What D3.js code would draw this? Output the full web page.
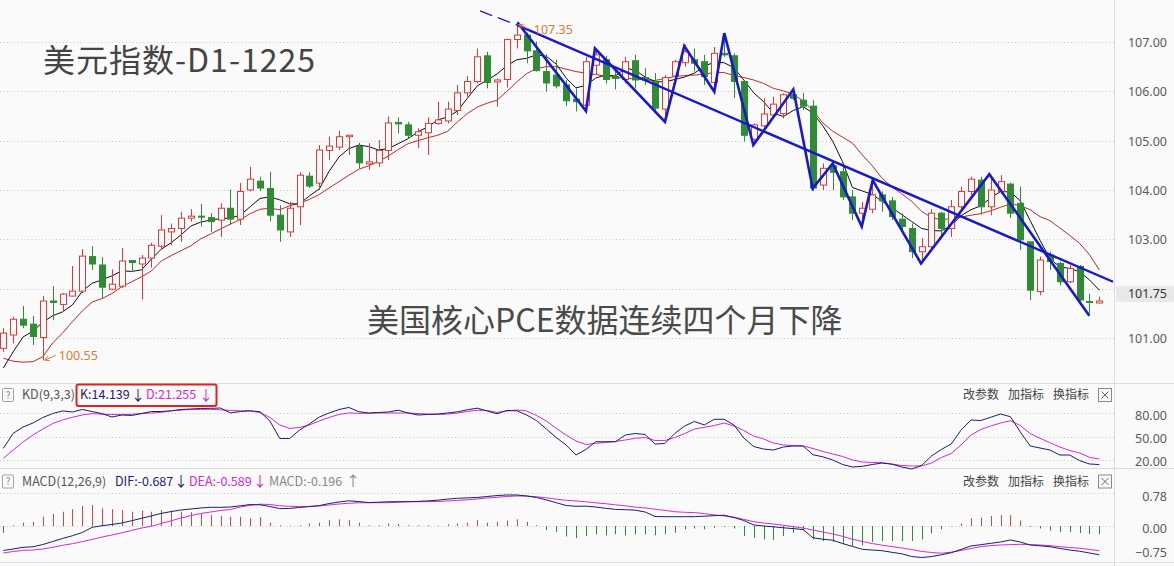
<!DOCTYPE html>
<html><head><meta charset="utf-8">
<script src="https://cdn.jsdelivr.net/npm/d3@7/dist/d3.min.js"></script>
<style>html,body{margin:0;padding:0;background:#fafafa;overflow:hidden}text{font-family:"Noto Sans CJK SC","Noto Sans",sans-serif}</style>
</head><body><svg id="c" width="1174" height="566"></svg>
<script>
const openP=[100.79,101.06,101.38,101.28,101.01,101.75,101.68,101.85,101.95,102.65,
102.48,101.99,102.05,102.57,102.50,102.62,102.86,103.15,103.22,103.43,
103.47,103.44,103.39,103.63,103.41,104.00,104.18,104.03,103.49,103.15,
103.66,104.28,104.14,104.80,104.87,105.08,104.88,104.53,104.55,104.80,
105.37,105.32,105.11,105.16,105.35,105.40,105.61,105.97,106.20,106.72,
106.19,106.24,107.05,107.14,106.82,106.40,106.33,106.13,105.84,105.72,
106.53,106.64,106.30,106.24,106.62,106.28,106.20,105.64,106.31,106.58,
106.64,106.60,106.18,106.77,106.72,106.20,105.03,105.30,105.52,105.55,
105.93,105.82,105.70,104.10,104.49,104.37,103.86,103.53,103.61,103.90,
103.78,103.41,103.22,102.75,102.85,103.53,103.22,103.66,103.97,104.20,
103.66,103.97,104.12,103.73,102.95,101.94,102.68,102.51,102.14,102.45,
101.74,101.71];
const closeP=[101.10,101.38,101.26,101.03,101.75,101.72,101.89,101.95,102.66,102.50,
102.03,102.09,102.56,102.53,102.62,102.88,103.19,103.22,103.43,103.47,
103.45,103.36,103.63,103.41,103.97,104.22,104.04,103.49,103.19,103.63,
104.30,104.08,104.81,104.89,105.08,105.11,104.55,104.57,104.80,105.36,
105.34,105.11,105.18,105.35,105.42,105.64,105.97,106.20,106.70,106.18,
106.23,107.05,107.14,106.82,106.42,106.17,106.11,105.81,105.79,106.60,
106.74,106.24,106.26,106.60,106.23,106.23,105.66,106.28,106.60,106.80,
106.57,106.30,106.77,106.74,106.20,105.11,105.32,105.54,105.74,105.93,
105.86,105.70,104.04,104.44,104.36,103.86,103.53,103.63,103.90,103.78,
103.46,103.26,102.75,102.85,103.53,103.22,103.66,103.97,104.22,103.66,
104.00,104.17,103.53,102.99,101.97,102.58,102.55,102.14,102.41,101.77,
101.72,101.75];
const highP=[101.20,101.43,101.65,101.45,101.85,102.05,101.91,102.46,102.80,102.86,
102.64,102.39,102.82,102.58,102.68,102.93,103.49,103.32,103.56,103.61,
103.72,103.53,103.73,104.01,104.14,104.47,104.27,104.37,103.69,103.76,
104.36,104.36,104.91,105.08,105.20,105.11,104.96,104.95,105.01,105.49,
105.47,105.38,105.25,105.47,105.79,105.79,106.13,106.31,106.87,106.80,
106.26,107.07,107.35,107.19,107.01,106.75,106.64,106.23,106.06,106.70,
106.84,106.72,106.50,106.70,106.74,106.47,106.37,106.33,106.64,106.94,
106.87,106.74,106.90,107.18,106.77,106.23,105.35,105.86,105.89,105.96,
105.96,105.97,105.82,104.54,104.57,104.51,104.00,103.76,104.24,103.97,
103.86,103.53,103.32,103.02,103.61,103.56,103.80,104.07,104.27,104.27,
104.27,104.30,104.15,104.07,102.95,102.65,102.75,102.55,102.48,102.48,
101.90,101.84];
const lowP=[100.72,100.89,101.20,100.86,100.55,101.36,101.53,101.84,101.91,102.38,
101.80,101.97,102.01,102.34,101.78,102.43,102.80,102.88,102.95,103.36,
103.26,103.15,103.05,103.29,103.29,103.97,103.98,103.36,102.95,103.05,
103.29,104.04,104.00,104.61,104.81,104.71,104.44,104.41,104.47,104.61,
105.15,105.05,104.85,104.71,105.32,105.35,105.52,105.89,106.16,106.06,
105.69,106.08,106.87,106.57,106.40,105.99,106.06,105.70,105.59,105.55,
106.33,106.16,106.04,106.16,106.06,106.13,105.59,105.49,106.23,106.50,
106.40,106.13,105.99,106.70,105.86,104.98,104.95,105.18,105.45,105.45,
105.82,105.62,103.98,104.00,104.00,103.80,103.39,103.26,103.53,103.56,
103.39,103.19,102.62,102.51,102.78,103.09,103.05,103.56,103.90,103.50,
103.49,103.92,103.43,102.78,101.77,101.87,102.38,102.07,102.11,101.74,
101.50,101.70];
const maFast=[100.39,100.72,101.02,101.14,101.32,101.45,101.53,101.67,101.95,102.11,
102.18,102.26,102.36,102.35,102.38,102.60,102.80,102.93,103.09,103.27,
103.35,103.39,103.42,103.43,103.49,103.66,103.83,103.86,103.80,103.72,
103.72,103.88,104.02,104.38,104.67,104.84,104.91,104.88,104.81,104.84,
104.94,105.04,105.18,105.28,105.42,105.48,105.60,105.86,106.11,106.23,
106.35,106.52,106.64,106.67,106.74,106.71,106.55,106.27,106.07,106.12,
106.27,106.33,106.31,106.47,106.43,106.29,106.20,106.19,106.24,106.29,
106.37,106.51,106.59,106.58,106.48,106.23,105.97,105.79,105.56,105.49,
105.61,105.69,105.56,105.30,104.99,104.57,104.05,103.98,103.91,103.77,
103.64,103.50,103.36,103.22,103.18,103.17,103.28,103.48,103.60,103.68,
103.84,103.97,103.96,103.78,103.38,102.98,102.61,102.44,102.41,102.34,
102.18,101.97];
const maSlow=[100.59,100.53,100.51,100.52,100.62,100.90,101.10,101.33,101.55,101.73,
101.80,101.90,102.04,102.14,102.24,102.36,102.56,102.67,102.77,102.87,
103.01,103.11,103.21,103.31,103.40,103.52,103.61,103.63,103.60,103.68,
103.73,103.81,103.91,104.04,104.17,104.30,104.42,104.49,104.58,104.69,
104.82,104.94,105.00,105.06,105.11,105.19,105.38,105.55,105.68,105.76,
105.82,106.00,106.19,106.36,106.46,106.50,106.50,106.45,106.40,106.37,
106.34,106.31,106.28,106.27,106.25,106.23,106.22,106.26,106.30,106.32,
106.33,106.35,106.38,106.38,106.32,106.28,106.23,106.16,106.06,106.01,
105.94,105.81,105.61,105.36,105.19,105.07,104.95,104.71,104.49,104.24,
104.06,103.92,103.77,103.57,103.44,103.40,103.42,103.45,103.49,103.52,
103.58,103.65,103.72,103.68,103.60,103.46,103.38,103.23,103.08,102.92,
102.69,102.38];
const kLine=[35,54.3,62.4,67.5,74.6,79.7,83,81.7,84.9,82.3,
79.7,75.2,77.8,77.2,79.7,82.3,82.3,83.2,84.9,85.5,
86.2,86.4,86.8,80.4,82.3,83.2,82,70.1,47.6,47.6,
58.5,66.2,75.2,80.4,84.9,87.5,82.1,80.4,81,81.7,
84,80.4,77.8,78.5,79.1,80.4,81.9,84.5,86.6,83,
79.4,83.6,83.2,77.8,70.7,59.8,48.9,39.3,26.4,33.5,
43.5,43.5,43.5,52.1,54,52.8,40.5,41.2,54,63.7,
69.5,65,72.3,72.3,65,48.3,37.3,34.1,32.8,36.7,
38,38,26.8,24.1,20,14.2,11,11.9,14.2,16.1,
14.6,11,8.4,12.9,25.1,33.5,40.5,58.5,71.4,70.7,
74.9,79.1,75.6,56,38,35.4,32.8,26.4,26.4,19.3,
14.9,14.139];
const dLine=[22.2,32.8,43.1,52.1,59.8,66.9,71.4,74.9,77.8,79.7,
78.8,78.5,78.5,78.7,79.7,80.4,81.3,83.2,84.2,84.9,
85.1,85.1,84.5,83.6,83.2,83,81,74.6,65,60.5,
61.8,65,70.1,74.6,78.5,80.4,80,80,80.4,80.4,
80.4,80.4,79.7,79.1,78.5,79.1,80.4,82.3,83.9,83.6,
81,83,84.2,83,77.2,70.1,60.5,52.1,44.4,39.9,
41.4,42.5,43.8,45.7,47.9,48.9,45,45,48.9,54,
59.8,62,64.3,67.5,63.7,57.9,50.8,47,41.8,39.3,
38.6,38,34.8,30.9,27.7,24.5,20,17.4,16.8,16.5,
14.8,12.9,12.3,12.3,16.1,23.2,28.3,39.3,52.1,59.2,
63.7,67.5,70.5,64.3,54,47.9,42.2,36.7,32.2,29,
23.5,21.255];
const difLine=[-0.585,-0.549,-0.508,-0.496,-0.442,-0.370,-0.298,-0.232,-0.155,-0.031,
0.007,0.036,0.072,0.126,0.184,0.241,0.301,0.344,0.382,0.406,
0.430,0.446,0.446,0.453,0.482,0.511,0.506,0.465,0.415,0.418,
0.442,0.463,0.487,0.535,0.573,0.601,0.582,0.558,0.568,0.578,
0.580,0.580,0.587,0.599,0.616,0.642,0.661,0.671,0.680,0.704,
0.726,0.740,0.740,0.716,0.680,0.623,0.556,0.489,0.470,0.473,
0.453,0.422,0.396,0.389,0.377,0.334,0.227,0.222,0.222,0.222,
0.222,0.234,0.246,0.258,0.203,0.131,0.024,0,-0.019,-0.043,
-0.062,-0.084,-0.282,-0.315,-0.339,-0.418,-0.487,-0.556,-0.573,-0.589,
-0.628,-0.663,-0.728,-0.752,-0.730,-0.687,-0.637,-0.558,-0.477,-0.446,
-0.413,-0.382,-0.334,-0.382,-0.453,-0.473,-0.494,-0.535,-0.573,-0.601,
-0.644,-0.687];
const deaLine=[-0.644,-0.609,-0.582,-0.573,-0.549,-0.508,-0.461,-0.422,-0.372,-0.322,
-0.263,-0.215,-0.162,-0.105,-0.048,-0.007,0.060,0.124,0.191,0.248,
0.298,0.334,0.370,0.394,0.453,0.492,0.520,0.513,0.482,0.470,
0.463,0.468,0.477,0.501,0.525,0.542,0.554,0.556,0.556,0.556,
0.566,0.578,0.580,0.580,0.587,0.597,0.611,0.625,0.644,0.668,
0.685,0.704,0.716,0.714,0.697,0.673,0.640,0.613,0.597,0.578,
0.554,0.532,0.506,0.482,0.451,0.430,0.401,0.372,0.341,0.327,
0.320,0.296,0.265,0.239,0.208,0.158,0.103,0.072,0.048,0.017,
-0.014,-0.048,-0.095,-0.143,-0.191,-0.246,-0.317,-0.370,-0.418,-0.458,
-0.492,-0.525,-0.563,-0.606,-0.632,-0.649,-0.625,-0.585,-0.537,-0.492,
-0.468,-0.453,-0.444,-0.437,-0.444,-0.453,-0.468,-0.494,-0.513,-0.532,
-0.558,-0.589];
const macdBar=[-0.16,0.02,0.08,0.10,0.22,0.29,0.34,0.40,0.48,0.50,
0.42,0.40,0.38,0.34,0.37,0.34,0.38,0.37,0.34,0.33,
0.30,0.26,0.24,0.22,0.22,0.18,0.21,0.08,0.02,0.01,
0.02,0.06,0.08,0.14,0.16,0.14,0.08,0.02,0.02,0.06,
0.05,0.02,0.02,0.02,0.01,0.04,0.06,0.08,0.14,0.08,
0.10,0.13,0.16,0.10,0.02,-0.10,-0.14,-0.25,-0.29,-0.24,
-0.20,-0.22,-0.20,-0.22,-0.20,-0.20,-0.22,-0.20,-0.16,-0.08,
-0.06,-0.08,-0.04,-0.02,-0.06,-0.24,-0.28,-0.32,-0.33,-0.24,
-0.16,-0.10,-0.32,-0.36,-0.38,-0.44,-0.48,-0.46,-0.38,-0.36,
-0.36,-0.36,-0.36,-0.32,-0.18,-0.08,-0.01,0.06,0.18,0.20,
0.24,0.26,0.26,0.13,-0.02,-0.06,-0.11,-0.14,-0.14,-0.17,
-0.19,-0.196];
const priceTicks=[107,106,105,104,103,102,101];
const priceLabels=[107,106,105,104,103,101];
const kdTicks=[80,50,20];
const macdTicks=[0.78,0,-0.75];
// hand-drawn annotation lines: [candle index, price]
const zigzag=[[52.06,107.40],[59.01,105.60],[59.92,106.87],[67.01,105.38],[68.97,106.92],[72.01,105.99],[73.02,107.18],[75.96,104.91],[80.01,106.04],[81.97,104.03],[84.0,104.54],[86.94,103.26],[88.05,104.20],[92.94,102.51],[99.86,104.32],[109.99,101.45]];
const trendLong=[[52.06,107.34],[112.39,102.14]];
const trendThin=[[48.28,107.63],[52.06,107.34]];
const hiMark={i:52,v:107.35,label:"107.35"};
const loMark={i:4,v:100.55,label:"100.55"};
const lastPrice=101.75;

const RED="#db3a3a", GREEN="#2f8c34", BG="#fafafa", BLUE="#1818cc", NAVY="#1b1f6b", MAG="#d02bd0";
const svg=d3.select("#c");
const N=openP.length, idx=d3.range(N);
const x=d3.scaleLinear().domain([0,111]).range([3.3,1099.3]);
const yP=d3.scaleLinear().domain([107,101]).range([42,338]);
const yK=d3.scaleLinear().domain([80,20]).range([413.3,460]);
const yM=d3.scaleLinear().domain([0.78,0]).range([493.3,526]);
const AX=1114;

svg.append("rect").attr("width",1174).attr("height",566).attr("fill",BG);
// panel separators
svg.append("line").attr("x1",0).attr("x2",1174).attr("y1",383.5).attr("y2",383.5).attr("stroke","#dcdcdc");
svg.append("line").attr("x1",0).attr("x2",1174).attr("y1",468.5).attr("y2",468.5).attr("stroke","#dcdcdc");
svg.append("line").attr("x1",0).attr("x2",1174).attr("y1",562.5).attr("y2",562.5).attr("stroke","#e2e2e2");
svg.append("line").attr("x1",AX+0.5).attr("x2",AX+0.5).attr("y1",0).attr("y2",566).attr("stroke","#dcdcdc");

function grid(sc,ticks){
  svg.append("g").selectAll("line").data(ticks).join("line")
    .attr("x1",0).attr("x2",AX).attr("y1",d=>Math.round(sc(d))+0.5).attr("y2",d=>Math.round(sc(d))+0.5)
    .attr("stroke","#c9c9c9").attr("stroke-dasharray","1,2.5");
}
grid(yP,priceTicks); grid(yK,kdTicks); grid(yM,[0.78,0]);

function rightAxis(sc,ticks,fmt,dy,clampMax){
  const g=svg.append("g").attr("transform",`translate(${AX},0)`)
    .call(d3.axisRight(sc).tickValues(ticks).tickSize(0).tickFormat(fmt));
  g.select(".domain").remove();
  g.selectAll("text").attr("x",53).attr("text-anchor","end").attr("dy","0.35em")
    .attr("fill","#5a5a5a").style("font-size","12.5px").style("font-family","'Noto Sans',sans-serif");
  g.selectAll(".tick").attr("transform",d=>`translate(0,${Math.min(sc(d)+dy,clampMax)})`);
}
rightAxis(yP,priceLabels,d3.format(".2f"),0.5,999);
rightAxis(yK,kdTicks,d3.format(".2f"),2,999);
rightAxis(yM,macdTicks,d3.format(".2f"),3,553);
// last price box
const lp=svg.append("g");
lp.append("rect").attr("x",AX+2).attr("y",yP(lastPrice)-15).attr("width",58).attr("height",16).attr("fill","#e9e9e9");
lp.append("text").attr("x",AX+53).attr("y",yP(lastPrice)-7).attr("dy","0.35em").attr("text-anchor","end")
  .attr("fill","#333").style("font-size","12.5px").style("font-family","'Noto Sans',sans-serif").text(d3.format(".2f")(lastPrice));

// main panel clip
svg.append("clipPath").attr("id","mp").append("rect").attr("x",0).attr("y",0).attr("width",AX).attr("height",383);
const main=svg.append("g").attr("clip-path","url(#mp)");

// titles
main.append("text").attr("x",43).attr("y",61).attr("dy","0.35em").attr("fill","#444").style("font-size","32px").style("letter-spacing","1px").text("美元指数-D1-1225");
main.append("text").attr("x",367).attr("y",321).attr("dy","0.35em").attr("fill","#4a4a4a").style("font-size","32px").text("美国核心PCE数据连续四个月下降");

// moving averages
const lineP=arr=>d3.line().x((d,i)=>x(i)).y(d=>yP(d))(arr);
main.append("path").attr("d",lineP(maSlow)).attr("fill","none").attr("stroke","#c62828").attr("stroke-width",1);
main.append("path").attr("d",lineP(maFast)).attr("fill","none").attr("stroke","#111").attr("stroke-width",1);

// candles
const up=i=>closeP[i]>=openP[i];
main.append("g").selectAll("line").data(idx).join("line")
  .attr("x1",i=>Math.round(x(i))+0.5).attr("x2",i=>Math.round(x(i))+0.5)
  .attr("y1",i=>yP(highP[i])).attr("y2",i=>yP(lowP[i]))
  .attr("stroke",i=>up(i)?RED:GREEN).attr("stroke-width",1);
main.append("g").selectAll("rect").data(idx).join("rect")
  .attr("x",i=>Math.round(x(i))-2.5).attr("width",6)
  .attr("y",i=>yP(Math.max(openP[i],closeP[i])))
  .attr("height",i=>Math.max(0.8,Math.abs(yP(openP[i])-yP(closeP[i]))))
  .attr("fill",i=>up(i)?BG:GREEN).attr("stroke",i=>up(i)?RED:GREEN).attr("stroke-width",1);

// blue annotation lines
const lineA=d3.line().x(d=>x(d[0])).y(d=>yP(d[1]));
main.append("path").attr("d",lineA(trendThin)).attr("fill","none").attr("stroke",BLUE).attr("stroke-width",1.3).attr("stroke-dasharray","13,6");
main.append("path").attr("d",lineA(trendLong)).attr("fill","none").attr("stroke",BLUE).attr("stroke-width",2.4);
main.append("path").attr("d",lineA(zigzag)).attr("fill","none").attr("stroke",BLUE).attr("stroke-width",2.6).attr("stroke-linejoin","miter");

// high / low markers
function marker(m,dx,dy){
  const x0=x(m.i)+2, y0=yP(m.v);
  const x1=x0+dx, y1=y0+dy;
  const g=main.append("g").attr("stroke","#e07a2c").attr("fill","none").attr("stroke-width",1);
  g.append("line").attr("x1",x0).attr("y1",y0).attr("x2",x1).attr("y2",y1);
  const ang=Math.atan2(dy,dx);
  [0.5,-0.5].forEach(a=>g.append("line").attr("x1",x0).attr("y1",y0)
     .attr("x2",x0+5*Math.cos(ang+a)).attr("y2",y0+5*Math.sin(ang+a)));
  main.append("text").attr("x",x1+3).attr("y",y1).attr("dy","0.35em").attr("fill","#e07a2c")
    .style("font-size","12.5px").style("font-family","'Noto Sans',sans-serif").text(m.label);
}
marker(hiMark,12,5);
marker(loMark,11,-5);

// KD panel
const lineK=arr=>d3.line().x((d,i)=>x(i)).y(d=>yK(d))(arr);
svg.append("path").attr("d",lineK(dLine)).attr("fill","none").attr("stroke",MAG).attr("stroke-width",1);
svg.append("path").attr("d",lineK(kLine)).attr("fill","none").attr("stroke",NAVY).attr("stroke-width",1);

// MACD panel
svg.append("g").selectAll("line").data(idx).join("line")
  .attr("x1",i=>Math.round(x(i))+0.5).attr("x2",i=>Math.round(x(i))+0.5)
  .attr("y1",yM(0)).attr("y2",i=>yM(macdBar[i]))
  .attr("stroke",i=>macdBar[i]>=0?"#d24848":"#2f8c34").attr("stroke-width",1);
const lineM=arr=>d3.line().x((d,i)=>x(i)).y(d=>yM(d))(arr);
svg.append("path").attr("d",lineM(deaLine)).attr("fill","none").attr("stroke",MAG).attr("stroke-width",1);
svg.append("path").attr("d",lineM(difLine)).attr("fill","none").attr("stroke",NAVY).attr("stroke-width",1);

// panel headers
function header(y,items){
  const g=svg.append("g");
  g.append("rect").attr("x",2.5).attr("y",y-6.5).attr("width",11).attr("height",13).attr("fill","none").attr("stroke","#a0a0a0").attr("rx",1);
  g.append("text").attr("x",8).attr("y",y).attr("dy","0.35em").attr("text-anchor","middle").attr("fill","#888").style("font-size","10px").text("?");
  items.forEach(it=>g.append("text").attr("x",it[0]).attr("y",y).attr("dy","0.35em").attr("fill",it[2]).style("font-size",it[3]||"12.5px").text(it[1]));
  [["改参数",963],["加指标",1008],["换指标",1053]].forEach(t=>g.append("text").attr("x",t[1]).attr("y",y).attr("dy","0.35em").attr("fill","#444").style("font-size","12px").text(t[0]));
  g.append("rect").attr("x",1098.5).attr("y",y-6.5).attr("width",13).attr("height",13).attr("fill","none").attr("stroke","#888");
  g.append("path").attr("d",`M1101.5,${y-3.5}L1108.5,${y+3.5}M1108.5,${y-3.5}L1101.5,${y+3.5}`).attr("stroke","#555").attr("stroke-width",0.9);
  return g;
}
header(395,[[22,"KD(9,3,3)","#555"],[80,"K:14.139","#1b1f6b"],[131,"↓","#1b1f6b","14px"],[146,"D:21.255",MAG],[199,"↓",MAG,"14px"]]);
svg.append("rect").attr("x",76.5).attr("y",384.5).attr("width",140).attr("height",21.5).attr("fill","none").attr("stroke","#e02222").attr("stroke-width",2).attr("rx",2);
header(481.5,[[22,"MACD(12,26,9)","#555"],[115,"DIF:-0.687","#1b1f6b"],[174,"↓","#1b1f6b","14px"],[189,"DEA:-0.589",MAG],[253,"↓",MAG,"14px"],[269,"MACD:-0.196","#888"],[346,"↑","#888","14px"]]);
</script></body></html>
